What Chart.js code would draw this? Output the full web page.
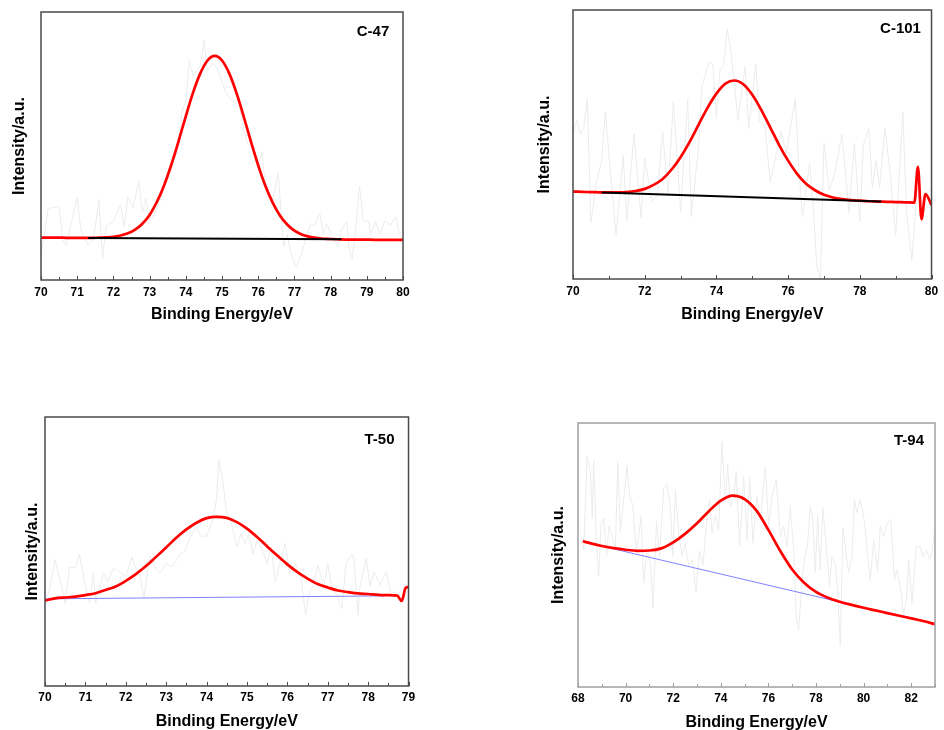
<!DOCTYPE html>
<html>
<head>
<meta charset="utf-8">
<script src="https://cdn.jsdelivr.net/npm/chart.js@4.4.1/dist/chart.umd.min.js"></script>
<style>
  body { margin: 0; background: #fff; width: 944px; height: 730px; position: relative; overflow: hidden; }
  .panel { position: absolute; }
</style>
</head>
<body>
<div class="panel" style="left:0px;top:0px;width:420px;height:330px"><canvas id="c47" width="420" height="330"></canvas></div>
<div class="panel" style="left:530px;top:0px;width:414px;height:330px"><canvas id="c101" width="414" height="330"></canvas></div>
<div class="panel" style="left:0px;top:400px;width:420px;height:340px"><canvas id="t50" width="420" height="340"></canvas></div>
<div class="panel" style="left:530px;top:400px;width:414px;height:340px"><canvas id="t94" width="414" height="340"></canvas></div>
<script>
// intensities are in arbitrary units, 0 = bottom of frame, 100 = top

// ---- C-47 ----
const c47FitX = [70, 70.2, 70.4, 70.6, 70.8, 71, 71.2, 71.4, 71.6, 71.8, 72, 72.2, 72.4, 72.6, 72.8, 73, 73.2, 73.4, 73.6, 73.8,
  74, 74.2, 74.4, 74.6, 74.8, 75, 75.2, 75.4, 75.6, 75.8, 76, 76.2, 76.4, 76.6, 76.8, 77, 77.2, 77.4, 77.6, 77.8,
  78, 78.2, 78.4, 78.6, 78.8, 79, 79.2, 79.4, 79.6, 79.8, 80];
const c47FitY = [15.8, 15.8, 15.8, 15.8, 15.7, 15.7, 15.7, 15.7, 15.8, 15.9, 16.1, 16.6, 17.4, 18.8, 21.0, 24.3, 29.1, 35.3, 43.0, 51.8,
  61.1, 69.9, 77.1, 81.9, 83.6, 81.9, 77.1, 69.8, 61.0, 51.6, 42.8, 35.1, 28.9, 24.1, 20.7, 18.4, 17.0, 16.2, 15.7, 15.4,
  15.3, 15.2, 15.1, 15.1, 15.1, 15.1, 15.0, 15.0, 15.0, 15.0, 15.0];
const c47BaseX = [71.3, 78.3];
const c47BaseY = [15.7, 15.2];
const c47RawX = [70, 70.2, 70.5, 70.6, 70.7, 71, 71.1, 71.3, 71.45, 71.6, 71.7, 71.8, 72, 72.2, 72.3, 72.4, 72.55, 72.7, 72.8, 72.9,
  73, 73.15, 73.3, 73.4, 73.55, 73.75, 73.9, 74, 74.1, 74.2, 74.4, 74.5, 74.6, 74.75, 74.9, 75.1, 75.3, 75.45, 75.6, 75.7,
  75.8, 76, 76.1, 76.2, 76.4, 76.55, 76.7, 76.8, 76.9, 77.05, 77.2, 77.35, 77.45, 77.55, 77.7, 77.8, 77.9, 78.05, 78.2, 78.3,
  78.45, 78.5, 78.6, 78.7, 78.8, 78.9, 79.05, 79.1, 79.25, 79.35, 79.5, 79.65, 79.8, 79.9, 80];
const c47RawY = [8.7, 26.7, 27.4, 15, 13, 31, 18.7, 13, 15, 30, 8, 20, 21.8, 28, 20, 31, 27, 37, 25, 30.5,
  22, 25, 30, 35, 42, 47, 63, 67, 82, 76, 80, 89.5, 78, 81, 78, 70, 66.5, 67, 56, 51,
  50, 42, 48, 35, 30, 40, 12.4, 17, 10, 5, 10, 17, 21, 20, 25, 17, 21, 16, 12.4, 18.7,
  21.8, 12.4, 8, 20, 35, 22, 22, 17, 21.8, 17, 22, 20.5, 23.6, 17, 18.7];

// ---- C-101 ----
const c101FitX = [70, 70.25, 70.5, 70.75, 71, 71.25, 71.5, 71.75, 72, 72.25, 72.5, 72.75, 73, 73.25, 73.5, 73.75,
  74, 74.25, 74.5, 74.75, 75, 75.25, 75.5, 75.75, 76, 76.25, 76.5, 76.75, 77, 77.25, 77.5, 77.75,
  78, 78.25, 78.5, 78.75, 79, 79.25, 79.5, 79.52, 79.62, 79.72, 79.83, 80];
const c101FitY = [32.5, 32.4, 32.3, 32.2, 32.2, 32.2, 32.3, 32.7, 33.5, 35.0, 37.2, 40.7, 45.3, 50.9, 57.3, 63.6,
  68.9, 72.6, 73.8, 72.4, 68.5, 62.9, 56.4, 49.8, 44.0, 39.1, 35.4, 33.0, 31.3, 30.3, 29.7, 29.3,
  29.1, 28.9, 28.8, 28.7, 28.6, 28.5, 28.4, 28.4, 41.7, 22.2, 31.6, 27.5];
const c101BaseX = [70.8, 78.6];
const c101BaseY = [32.2, 28.8];
const c101RawX = [70, 70.1, 70.2, 70.3, 70.4, 70.5, 70.65, 70.8, 70.9, 71.05, 71.2, 71.4, 71.5, 71.7, 71.9, 72, 72.2, 72.35, 72.5, 72.65,
  72.8, 73, 73.2, 73.3, 73.5, 73.6, 73.8, 73.9, 74, 74.1, 74.2, 74.3, 74.4, 74.5, 74.6, 74.8, 74.9, 75.1, 75.2, 75.35,
  75.5, 75.65, 75.8, 75.95, 76.2, 76.3, 76.4, 76.6, 76.7, 76.8, 76.9, 77, 77.15, 77.3, 77.5, 77.7, 77.85, 78, 78.1, 78.25,
  78.35, 78.45, 78.55, 78.7, 78.85, 79, 79.2, 79.3, 79.45, 79.6, 79.7, 79.85, 80];
const c101RawY = [54, 59, 54, 56, 67, 21, 36, 44, 62, 39, 16.5, 46, 21.4, 54, 22.6, 45, 29, 31, 55, 32,
  66, 25, 66.6, 23.3, 48.6, 72, 81, 79.6, 60, 77.7, 79, 93, 85, 72.8, 59, 79, 56, 80, 58.5, 57,
  36, 45.5, 55, 46.8, 67, 41, 23, 43, 27, 4.7, 0, 50.5, 33, 39, 54, 24.5, 50.5, 21.4, 50, 56,
  34, 44, 34, 56, 39, 16, 62, 25.7, 7, 34, 27, 32, 34];

// ---- T-50 ----
const t50FitX = [70, 70.25, 70.5, 70.75, 71, 71.25, 71.5, 71.75, 72, 72.25, 72.5, 72.75, 73, 73.25, 73.5, 73.75,
  74, 74.25, 74.5, 74.75, 75, 75.25, 75.5, 75.75, 76, 76.25, 76.5, 76.75, 77, 77.25, 77.5, 77.75,
  78, 78.25, 78.5, 78.72, 78.83, 78.93, 79];
const t50FitY = [31.8, 32.6, 32.9, 33.2, 33.8, 34.5, 35.7, 37.0, 39.1, 41.6, 44.6, 48.0, 51.5, 55.1, 58.2, 60.7,
  62.4, 62.9, 62.5, 60.9, 58.5, 55.4, 51.9, 48.5, 45.2, 42.3, 39.9, 37.9, 36.6, 35.5, 34.9, 34.4,
  34.2, 33.9, 33.8, 33.6, 31.6, 36.5, 36.8];
const t50BaseX = [70, 78.4];
const t50BaseY = [32.4, 33.5];
const t50RawX = [70.03, 70.1, 70.25, 70.4, 70.5, 70.6, 70.75, 70.85, 71, 71.1, 71.2, 71.25, 71.45, 71.55, 71.7, 71.8, 72, 72.15, 72.25, 72.35,
  72.45, 72.6, 72.7, 72.85, 73, 73.15, 73.35, 73.45, 73.6, 73.75, 73.85, 74, 74.15, 74.25, 74.3, 74.4, 74.5, 74.6, 74.75, 74.85,
  74.95, 75.05, 75.15, 75.25, 75.4, 75.5, 75.6, 75.7, 75.85, 75.95, 76.05, 76.2, 76.35, 76.45, 76.55, 76.65, 76.75, 76.9, 77, 77.1,
  77.25, 77.35, 77.45, 77.6, 77.65, 77.75, 77.8, 77.95, 78.05, 78.15, 78.3, 78.45, 78.55, 78.7, 78.85, 79];
const t50RawY = [33, 35, 47, 37.5, 30.7, 44, 44, 49, 37, 30.7, 42, 30.7, 42, 38.7, 43.7, 43, 40.6, 48, 43.7, 41,
  33, 48, 44.6, 42, 45.5, 44.3, 49, 50, 55.4, 59, 55.7, 55.7, 61.6, 69.7, 84, 76.5, 64, 61.6, 51.7, 56.7,
  53, 56.7, 49, 54.2, 50, 45.5, 51.7, 38.7, 48, 53, 42, 45.5, 39.4, 26.4, 35, 37.5, 45, 37, 45.5, 37,
  33, 28.8, 45.5, 49, 46.8, 26.4, 37, 47.4, 37, 42.5, 37.5, 42.5, 35, 34.7, 32, 35.6];

// ---- T-94 ----
const t94FitX = [68.2, 68.5, 69, 69.5, 70, 70.5, 71, 71.5, 72, 72.5, 73, 73.5, 74, 74.5, 75, 75.5,
  76, 76.5, 77, 77.5, 78, 78.5, 79, 79.5, 80, 80.5, 81, 81.5, 82, 82.5, 83];
const t94FitY = [55.2, 54.5, 53.4, 52.6, 52.0, 51.6, 51.7, 52.5, 54.8, 58.0, 62.0, 66.6, 70.6, 72.5, 71.2, 66.8,
  59.5, 51.5, 44.5, 39.5, 36.0, 33.8, 32.3, 31.1, 30.0, 29.0, 28.0, 27.0, 26.0, 25.0, 23.8];
const t94BaseX = [69.5, 79.9];
const t94BaseY = [52.3, 30.3];
const t94RawX = [68.1, 68.24, 68.38, 68.52, 68.6, 68.66, 68.77, 68.87, 68.97, 69.08, 69.2, 69.3, 69.43, 69.57, 69.67, 69.78, 69.92, 70.06, 70.17, 70.3,
  70.45, 70.65, 70.76, 70.9, 71.04, 71.15, 71.3, 71.43, 71.6, 71.74, 71.88, 71.99, 72.09, 72.23, 72.37, 72.5, 72.65, 72.8, 72.96, 73.11,
  73.25, 73.4, 73.53, 73.63, 73.77, 73.91, 74.05, 74.19, 74.29, 74.4, 74.54, 74.65, 74.79, 74.96, 75.1, 75.21, 75.35, 75.52, 75.66, 75.87,
  76.01, 76.15, 76.33, 76.5, 76.64, 76.78, 76.92, 77.06, 77.17, 77.27, 77.41, 77.51, 77.65, 77.76, 77.87, 77.97, 78.07, 78.18, 78.29, 78.43,
  78.57, 78.67, 78.81, 78.91, 79.02, 79.13, 79.23, 79.37, 79.51, 79.61, 79.72, 79.86, 80, 80.14, 80.28, 80.42, 80.59, 80.7, 80.84, 80.98,
  81.15, 81.29, 81.4, 81.54, 81.68, 81.8, 81.89, 82.03, 82.22, 82.36, 82.5, 82.64, 82.78, 82.87, 82.97];
const t94RawY = [55.8, 52, 87.4, 81.7, 64, 86, 55.8, 42, 61.5, 64, 49.5, 61, 57, 52, 85.5, 59, 71, 84, 72, 69,
  50.8, 64.6, 39.4, 52, 47, 30, 62.8, 49.5, 75.4, 76.7, 68.4, 49.5, 74.7, 58.3, 49.5, 54.5, 46.3, 48.2, 36.2, 51.4,
  46.3, 62, 71, 58.3, 65.3, 59.6, 93, 71, 84.2, 68.4, 71.6, 81.7, 53.3, 79.8, 55.8, 79.8, 54.5, 72.2, 63.4, 83.6,
  60.9, 72.2, 78.5, 57, 60.9, 53.3, 68.4, 52, 26.8, 21.7, 40, 48.2, 54.5, 68.4, 63.4, 43.2, 64.6, 44.4, 67.8, 53.3,
  38, 49.5, 47, 35.6, 15.4, 60.2, 53.3, 43.2, 49.5, 71, 65.9, 71, 64.6, 53.3, 40, 55.8, 43.8, 60.9, 57, 62,
  63.4, 40.7, 44.4, 38, 28, 33, 48.2, 31.8, 53.3, 53.3, 49.5, 52, 48.2, 50.8, 58.3];

const FONT = '"Liberation Sans", Arial, sans-serif';
Chart.defaults.font.family = FONT;

function pts(xs, ys) {
  return xs.map((x, i) => ({ x: x, y: ys[i] }));
}

// frame box, short inward ticks and the sample name
const framePlugin = {
  id: 'frame',
  afterDatasetsDraw(chart, args, opts) {
    const { ctx, chartArea: a } = chart;
    const xs = chart.scales.x;
    ctx.save();
    ctx.strokeStyle = opts.color;
    ctx.lineWidth = 1;
    const n = Math.round((xs.max - xs.min) / opts.minor);
    for (let i = 0; i <= n; i++) {
      const v = xs.min + i * opts.minor;
      const px = Math.round(xs.getPixelForValue(v)) + 0.5;
      const r = v / opts.major;
      const len = Math.abs(r - Math.round(r)) < 1e-6 ? 4 : 3;
      ctx.beginPath();
      ctx.moveTo(px, a.bottom);
      ctx.lineTo(px, a.bottom - len);
      ctx.stroke();
    }
    ctx.lineWidth = 1.5;
    ctx.strokeRect(a.left, a.top, a.width, a.height);
    ctx.fillStyle = '#000';
    ctx.font = 'bold 15px ' + FONT;
    ctx.textAlign = 'center';
    ctx.textBaseline = 'middle';
    ctx.fillText(opts.label, a.right - opts.dx, a.top + opts.dy);
    ctx.restore();
  }
};

function makePanel(id, cfg) {
  const datasets = [
    {
      data: pts(cfg.fitX, cfg.fitY),
      borderColor: '#ff0000',
      borderWidth: 2.7,
      pointRadius: 0,
      cubicInterpolationMode: 'monotone',
      order: cfg.baseOnTop ? 1 : 0
    },
    {
      data: pts(cfg.baseX, cfg.baseY),
      borderColor: cfg.baseColor,
      borderWidth: cfg.baseWidth,
      pointRadius: 0,
      order: cfg.baseOnTop ? 0 : 1
    },
    {
      data: pts(cfg.rawX, cfg.rawY),
      borderColor: '#ececec',
      borderWidth: 1,
      pointRadius: 0,
      order: 2
    }
  ];

  new Chart(document.getElementById(id), {
    type: 'line',
    data: { datasets: datasets },
    options: {
      responsive: false,
      animation: false,
      layout: { padding: { top: cfg.padTop, right: cfg.padRight, left: 0, bottom: 0 } },
      plugins: {
        legend: { display: false },
        tooltip: { enabled: false },
        frame: { label: cfg.label, dx: cfg.dx, dy: cfg.dy, color: cfg.frameColor, major: cfg.step, minor: cfg.step / 2 }
      },
      scales: {
        x: {
          type: 'linear',
          min: cfg.xMin,
          max: cfg.xMax,
          grid: { display: false, drawTicks: false },
          border: { display: false },
          ticks: {
            stepSize: cfg.step,
            includeBounds: false,
            maxRotation: 0,
            padding: cfg.tickPad,
            color: '#000',
            font: { size: 12, weight: 'bold' }
          },
          title: {
            display: true,
            text: 'Binding Energy/eV',
            color: '#000',
            font: { size: 16, weight: 'bold' },
            padding: { top: 0, bottom: cfg.xTitlePad }
          },
          afterFit: (s) => { s.height = cfg.xAxisH; }
        },
        y: {
          min: 0,
          max: 100,
          grid: { display: false, drawTicks: false },
          border: { display: false },
          ticks: { display: false },
          title: {
            display: true,
            text: 'Intensity/a.u.',
            color: '#000',
            font: { size: 16, weight: 'bold' },
            padding: { top: cfg.yTitlePad, bottom: 0 }
          },
          afterFit: (s) => { s.width = cfg.yAxisW; }
        }
      }
    },
    plugins: [framePlugin]
  });
}

makePanel('c47', {
  fitX: c47FitX, fitY: c47FitY, baseX: c47BaseX, baseY: c47BaseY, rawX: c47RawX, rawY: c47RawY,
  baseColor: '#000000', baseWidth: 2, baseOnTop: true,
  xMin: 70, xMax: 80, step: 1, label: 'C-47', dx: 30, dy: 20, frameColor: '#4a4a4a',
  padTop: 12, padRight: 17, yAxisW: 41, xAxisH: 50, tickPad: 5.5, xTitlePad: 5.4, yTitlePad: 10.4
});

makePanel('c101', {
  fitX: c101FitX, fitY: c101FitY, baseX: c101BaseX, baseY: c101BaseY, rawX: c101RawX, rawY: c101RawY,
  baseColor: '#000000', baseWidth: 2, baseOnTop: true,
  xMin: 70, xMax: 80, step: 2, label: 'C-101', dx: 31, dy: 19, frameColor: '#4a4a4a',
  padTop: 10, padRight: 7, yAxisW: 43, xAxisH: 51, tickPad: 5.8, xTitlePad: 5.4, yTitlePad: 5.4
});

makePanel('t50', {
  fitX: t50FitX, fitY: t50FitY, baseX: t50BaseX, baseY: t50BaseY, rawX: t50RawX, rawY: t50RawY,
  baseColor: '#8080ff', baseWidth: 1, baseOnTop: false,
  xMin: 70, xMax: 79, step: 1, label: 'T-50', dx: 29, dy: 23, frameColor: '#4a4a4a',
  padTop: 17, padRight: 11, yAxisW: 45, xAxisH: 54, tickPad: 4.8, xTitlePad: 8.4, yTitlePad: 23.4
});

makePanel('t94', {
  fitX: t94FitX, fitY: t94FitY, baseX: t94BaseX, baseY: t94BaseY, rawX: t94RawX, rawY: t94RawY,
  baseColor: '#8080ff', baseWidth: 1, baseOnTop: false,
  xMin: 68, xMax: 83, step: 2, label: 'T-94', dx: 26, dy: 18, frameColor: '#a0a0a0',
  padTop: 23, padRight: 9, yAxisW: 48, xAxisH: 53, tickPad: 4.8, xTitlePad: 7.4, yTitlePad: 19.4
});
</script>
</body>
</html>
